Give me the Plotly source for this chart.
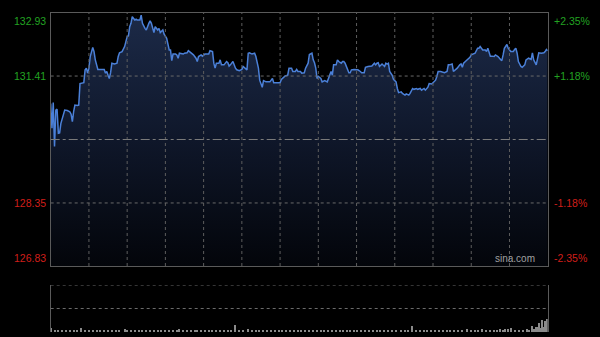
import plotly.graph_objects as go

# ---- data ----
prev_close = 129.88
price_min = [0, 1, 2, 3, 4, 5, 6, 7, 8, 11, 13, 15, 16, 17, 18, 19, 21, 22, 23, 25, 26, 27, 28, 29, 30, 31, 33, 34, 35, 37, 39, 41, 42, 43, 44, 45, 46, 47, 48, 50, 51, 52, 53, 54, 56, 58, 59, 60, 61, 62, 63, 64, 66, 67, 68, 70, 71, 72, 74, 75, 77,
             78, 79, 81, 82, 84, 85, 86, 88, 89, 91, 93, 94, 95, 96, 98, 99, 100, 101, 104, 105, 107, 108, 109, 111, 112, 114, 115, 116, 118, 119, 121, 122, 124, 125, 127, 128, 129, 130, 132, 133, 134, 136, 138, 139, 140, 141, 143, 145, 146, 148, 150, 151, 153, 154, 155,
             156, 158, 160, 161, 163, 164, 166, 167, 169, 171, 172, 174, 175, 176, 178, 180, 181, 183, 184, 186, 187, 189, 190, 192, 193, 194, 196, 197, 199, 200, 202, 203, 205, 206, 207, 208, 209, 210, 212, 213, 215, 217, 218, 219, 220, 221, 222, 224, 225, 226, 228, 229, 230, 231, 233, 234,
             235, 236, 238, 240, 241, 243, 244, 246, 247, 249, 251, 252, 254, 255, 256, 257, 258, 259, 260, 262, 263, 264, 265, 266, 268, 269, 271, 272, 273, 275, 276, 278, 279, 281, 282, 284, 285, 287, 288, 290, 291, 293, 294, 296, 297, 299, 300, 302, 303, 304, 306, 308, 309, 311, 312,
             313, 315, 316, 318, 319, 321, 322, 323, 324, 326, 327, 328, 329, 330, 332, 333, 335, 336, 337, 339, 341, 342, 343, 345, 346, 348, 349, 351, 353, 354, 355, 356, 358, 359, 361, 363, 364, 365, 366, 367, 369, 370, 372, 373, 375, 377, 378, 379, 381, 382, 383, 385, 387, 388, 389, 390]
price_val = [130.75, 130.15, 130.77, 129.71, 130.59, 130.61, 130.03, 130.04, 130.27, 130.59, 130.58, 130.55, 130.49, 130.31, 130.55, 130.71, 130.70, 130.71, 131.23, 131.25, 131.25, 131.56, 131.60, 131.48, 131.60, 131.88, 132.10, 132.00, 131.80, 131.57, 131.57, 131.56, 131.57, 131.48, 131.52, 131.43, 131.35, 131.49, 131.72, 131.70, 131.72, 131.72, 131.88, 131.97, 132.00, 132.12, 132.24, 132.36, 132.38, 132.60, 132.68, 132.84, 132.76, 132.78, 132.76, 132.76, 132.88, 132.68, 132.56, 132.52, 132.68,
             132.74, 132.68, 132.46, 132.60, 132.52, 132.56, 132.46, 132.52, 132.42, 132.32, 132.04, 132.04, 131.78, 131.94, 131.94, 131.92, 131.84, 131.96, 131.94, 131.96, 131.97, 132.02, 132.00, 131.94, 131.92, 131.84, 131.76, 131.88, 131.92, 131.89, 131.94, 131.94, 131.94, 132.02, 132.00, 131.72, 131.60, 131.72, 131.72, 131.80, 131.68, 131.68, 131.76, 131.73, 131.65, 131.68, 131.76, 131.60, 131.56, 131.54, 131.57, 131.64, 131.60, 131.56, 131.96,
             131.97, 131.94, 131.96, 131.88, 131.60, 131.31, 131.14, 131.30, 131.27, 131.27, 131.27, 131.35, 131.25, 131.25, 131.25, 131.25, 131.33, 131.40, 131.41, 131.43, 131.60, 131.60, 131.52, 131.52, 131.57, 131.52, 131.52, 131.48, 131.49, 131.60, 131.72, 131.93, 131.96, 131.80, 131.73, 131.60, 131.35, 131.40, 131.35, 131.27, 131.30, 131.27, 131.35, 131.48, 131.52, 131.43, 131.68, 131.68, 131.80, 131.76, 131.72, 131.76, 131.76, 131.72, 131.57, 131.49,
             131.49, 131.56, 131.57, 131.57, 131.56, 131.52, 131.49, 131.49, 131.62, 131.64, 131.64, 131.65, 131.72, 131.68, 131.72, 131.73, 131.64, 131.68, 131.70, 131.64, 131.72, 131.70, 131.72, 131.52, 131.43, 131.33, 131.27, 131.11, 131.01, 131.03, 130.99, 130.95, 130.98, 130.95, 130.99, 131.11, 131.09, 131.11, 131.09, 131.11, 131.07, 131.11, 131.07, 131.14, 131.23, 131.22, 131.25, 131.31, 131.40, 131.52, 131.52, 131.49, 131.49, 131.52, 131.68,
             131.68, 131.70, 131.52, 131.56, 131.60, 131.68, 131.70, 131.62, 131.72, 131.78, 131.81, 131.84, 131.86, 131.92, 131.94, 131.96, 132.08, 132.08, 132.12, 132.04, 132.04, 132.00, 132.08, 131.89, 131.89, 131.88, 131.92, 131.88, 131.81, 131.78, 131.92, 132.08, 132.17, 132.08, 132.00, 132.00, 132.05, 132.08, 131.96, 131.76, 131.64, 131.62, 131.68, 131.80, 131.84, 131.81, 131.97, 131.80, 131.68, 131.84, 131.97, 131.96, 131.97, 132.00, 132.05, 132.02]

vol_min = [0, 3, 6, 9, 12, 15, 18, 21, 24, 27, 30, 33, 36, 39, 42, 45, 48, 51, 54, 58, 60, 63, 66, 69, 72, 75, 78, 81, 84, 87, 90, 93, 96, 99, 101, 104, 107, 110, 113, 115, 118, 121, 124, 127, 130, 133, 136, 139, 142, 145, 148, 151, 155, 158, 161, 164, 167, 170, 173, 176, 179, 182, 185, 188, 191, 194, 197, 200, 203, 206, 209, 212, 215, 218, 221, 224, 227, 230, 233, 235, 238, 241, 244, 247, 250, 253, 256, 259, 262, 265, 268, 271, 275, 278, 281, 284, 287, 290, 293, 296, 299, 302, 305, 308, 311, 314, 317, 320, 323, 327, 330, 333, 336, 339, 342, 345, 348, 351, 353, 355, 357, 359, 362, 365, 368, 371, 374, 376, 378, 380, 381, 382, 383, 384, 385, 386, 387, 388, 389, 390]
vol_val = [13, 4, 5, 3, 4, 6, 4, 5, 13, 4, 3, 5, 4, 4, 6, 3, 4, 5, 4, 10, 4, 3, 5, 4, 4, 3, 5, 4, 3, 4, 5, 4, 3, 4, 10, 4, 3, 5, 4, 7, 3, 4, 3, 5, 4, 3, 4, 4, 5, 22, 4, 5, 10, 4, 7, 4, 3, 4, 5, 3, 4, 4, 3, 4, 5, 3, 4, 4, 3, 5, 4, 4, 3, 4, 5, 4, 3, 4, 4, 7, 4, 3, 4, 5, 3, 4, 4, 3, 5, 4, 3, 4, 7, 4, 3, 18, 4, 4, 5, 3, 4, 5, 4, 4, 5, 4, 3, 5, 4, 10, 4, 5, 4, 9, 4, 5, 4, 5, 10, 4, 10, 10, 13, 5, 4, 6, 10, 5, 18, 8, 15, 6, 15, 28, 12, 35, 14, 33, 20, 39]

left_ticks = [132.93, 131.41, 128.35, 126.83]
left_text = ["132.93", "131.41", "128.35", "126.83"]
right_text = ["+2.35%", "+1.18%", "-1.18%", "-2.35%"]
tick_colors = ["#22a322", "#22a322", "#d11f1a", "#d11f1a"]
grid_minutes = [30, 60, 90, 120, 150, 180, 210, 240, 270, 300, 330, 360]
y_range = [126.83, 132.93]
x_range = [0, 390]
vol_range = [0, 140]
vol_grid = [70, 140]

W, H = 600, 337
xdom = [50.7 / W, 547.7 / W]
ydom_main = [1 - 266 / H, 1 - 13 / H]
ydom_vol = [1 - 332 / H, 1 - 285 / H]

fig = go.Figure()
fig.add_trace(go.Scatter(
    x=price_min, y=price_val, mode="lines",
    line=dict(color="#4b80d8", width=1.5),
    fill="tozeroy",
    fillgradient=dict(type="vertical", start=y_range[0], stop=y_range[1],
                      colorscale=[[0, "#03050a"], [0.5, "#0f172a"], [1, "#1c2a48"]]),
    xaxis="x", yaxis="y", hoverinfo="skip", showlegend=False))

fig.add_trace(go.Bar(
    x=vol_min, y=vol_val, marker=dict(color="#8a8a8a", line=dict(width=0)),
    width=1.2, xaxis="x2", yaxis="y2", hoverinfo="skip", showlegend=False))

axis_common = dict(showline=True, mirror=True, linecolor="#5a5a5a", linewidth=1,
                   zeroline=False, ticks="", showticklabels=False, showgrid=False)

fig.update_layout(
    width=W, height=H,
    margin=dict(l=0, r=0, t=0, b=0),
    paper_bgcolor="#000000", plot_bgcolor="#000000",
    bargap=0,
    xaxis=dict(domain=xdom, range=x_range, **axis_common),
    yaxis=dict(domain=ydom_main, range=y_range, **axis_common),
    xaxis2=dict(domain=xdom, range=[x_range[0], x_range[1] + 0.5], showgrid=False, anchor="y2",
                showline=False, zeroline=False, showticklabels=False, ticks=""),
    yaxis2=dict(domain=ydom_vol, range=vol_range, showgrid=False,
                anchor="x2", showline=True, mirror=True, linecolor="#5a5a5a", linewidth=1,
                zeroline=False, showticklabels=False, ticks=""),
)

shapes = []
grid_style = dict(color="#5e5e5e", width=1, dash="dot")
for m in grid_minutes:
    shapes.append(dict(type="line", xref="x", yref="y domain", x0=m, x1=m, y0=0, y1=1,
                       line=grid_style, layer="above"))
for v in left_ticks[1:3]:
    shapes.append(dict(type="line", xref="x domain", yref="y", x0=0, x1=1, y0=v, y1=v,
                       line=dict(color="#6a6a6a", width=1, dash="dot"), layer="above"))
shapes.append(dict(type="line", xref="x domain", yref="y", x0=0, x1=1, y0=prev_close, y1=prev_close,
                   line=dict(color="#7a7a7a", width=1, dash="dashdot"), layer="above"))
for v in vol_grid:
    shapes.append(dict(type="line", xref="x2 domain", yref="y2", x0=0, x1=1, y0=v, y1=v,
                       line=dict(color="#6a6a6a", width=1, dash="dot"), layer="above"))
fig.update_layout(shapes=shapes)

annotations = []
for i, (v, lt, rt, c) in enumerate(zip(left_ticks, left_text, right_text, tick_colors)):
    ya = "middle"
    if i == 0:
        ya = "top"
    elif i == len(left_ticks) - 1:
        ya = "bottom"
    annotations.append(dict(text=lt, xref="paper", x=48 / W, xanchor="right",
                            yref="y", y=v, yanchor=ya, showarrow=False,
                            font=dict(family="Liberation Sans, Arial", size=10.5, color=c)))
    annotations.append(dict(text=rt, xref="paper", x=552 / W, xanchor="left",
                            yref="y", y=v, yanchor=ya, showarrow=False,
                            font=dict(family="Liberation Sans, Arial", size=10.5, color=c)))
annotations.append(dict(text="sina.com", xref="x domain", x=0.978, xanchor="right",
                        yref="y domain", y=0.0, yanchor="bottom", showarrow=False,
                        font=dict(family="Liberation Sans, Arial", size=10, color="#a0a0a0")))
fig.update_layout(annotations=annotations)

fig.write_html("out.html")
